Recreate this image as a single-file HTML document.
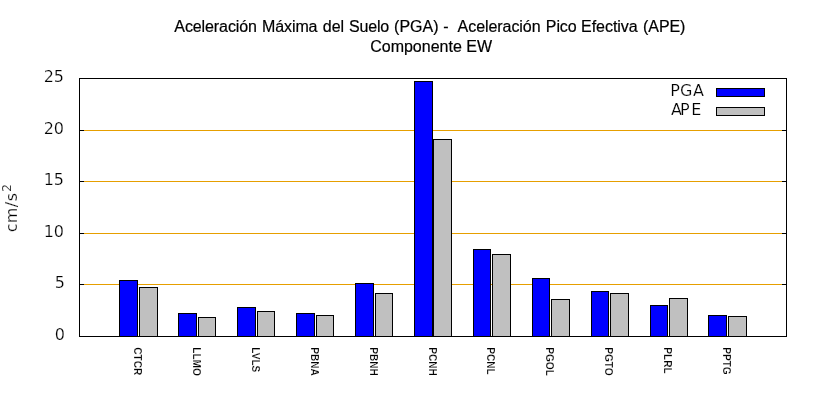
<!DOCTYPE html>
<html lang="es">
<head>
<meta charset="utf-8">
<title>Aceleración Máxima del Suelo (PGA) - Aceleración Pico Efectiva (APE)</title>
<style>
html,body{margin:0;padding:0;background:#fff;}
body{width:820px;height:400px;overflow:hidden;}
svg{display:block;}
.t{font-family:"Liberation Sans",Arial,Helvetica,sans-serif;font-size:16px;fill:#000;stroke:#000;stroke-width:0.2px;}
.d{font-family:"DejaVu Sans","Liberation Sans",sans-serif;font-size:16px;fill:#000;stroke:#fff;stroke-width:0.22px;}
.x{font-family:"Liberation Sans",Arial,Helvetica,sans-serif;font-size:11.5px;font-weight:bold;fill:#000;stroke:#fff;stroke-width:0.2px;}
</style>
</head>
<body>
<svg width="820" height="400" viewBox="0 0 820 400">
<rect x="0" y="0" width="820" height="400" fill="#ffffff"/>
<text class="t" y="32" xml:space="preserve"><tspan x="174.3" letter-spacing="-0.09">Aceleración </tspan><tspan x="262.0" letter-spacing="-0.1">Máxima </tspan><tspan x="322.8" letter-spacing="0">del </tspan><tspan x="349.1" letter-spacing="-0.2">Suelo </tspan><tspan x="394.1" letter-spacing="0">(PGA) </tspan><tspan x="443.2" letter-spacing="0">-  </tspan><tspan x="457.6" letter-spacing="-0.06">Aceleración </tspan><tspan x="545.8" letter-spacing="-0.08">Pico </tspan><tspan x="581.1" letter-spacing="-0.05">Efectiva </tspan><tspan x="643.1" letter-spacing="-0.1">(APE)</tspan></text>
<text class="t" x="431.1" y="52" text-anchor="middle">Componente EW</text>
<g shape-rendering="crispEdges">
<rect x="84" y="130" width="698" height="1" fill="#e69f00"/>
<rect x="80" y="130" width="4" height="1" fill="#000"/>
<rect x="782" y="130" width="4" height="1" fill="#000"/>
<rect x="84" y="181" width="698" height="1" fill="#e69f00"/>
<rect x="80" y="181" width="4" height="1" fill="#000"/>
<rect x="782" y="181" width="4" height="1" fill="#000"/>
<rect x="84" y="233" width="698" height="1" fill="#e69f00"/>
<rect x="80" y="233" width="4" height="1" fill="#000"/>
<rect x="782" y="233" width="4" height="1" fill="#000"/>
<rect x="84" y="284" width="698" height="1" fill="#e69f00"/>
<rect x="80" y="284" width="4" height="1" fill="#000"/>
<rect x="782" y="284" width="4" height="1" fill="#000"/>
<rect x="119.5" y="280.5" width="18" height="56" fill="#0000ff" stroke="#000" stroke-width="1"/>
<rect x="139.5" y="287.5" width="18" height="49" fill="#c0c0c0" stroke="#000" stroke-width="1"/>
<rect x="178.5" y="313.5" width="18" height="23" fill="#0000ff" stroke="#000" stroke-width="1"/>
<rect x="198.5" y="317.5" width="17" height="19" fill="#c0c0c0" stroke="#000" stroke-width="1"/>
<rect x="237.5" y="307.5" width="18" height="29" fill="#0000ff" stroke="#000" stroke-width="1"/>
<rect x="257.5" y="311.5" width="17" height="25" fill="#c0c0c0" stroke="#000" stroke-width="1"/>
<rect x="296.5" y="313.5" width="18" height="23" fill="#0000ff" stroke="#000" stroke-width="1"/>
<rect x="316.5" y="315.5" width="17" height="21" fill="#c0c0c0" stroke="#000" stroke-width="1"/>
<rect x="355.5" y="283.5" width="18" height="53" fill="#0000ff" stroke="#000" stroke-width="1"/>
<rect x="375.5" y="293.5" width="17" height="43" fill="#c0c0c0" stroke="#000" stroke-width="1"/>
<rect x="414.5" y="81.5" width="18" height="255" fill="#0000ff" stroke="#000" stroke-width="1"/>
<rect x="433.5" y="139.5" width="18" height="197" fill="#c0c0c0" stroke="#000" stroke-width="1"/>
<rect x="473.5" y="249.5" width="17" height="87" fill="#0000ff" stroke="#000" stroke-width="1"/>
<rect x="492.5" y="254.5" width="18" height="82" fill="#c0c0c0" stroke="#000" stroke-width="1"/>
<rect x="532.5" y="278.5" width="17" height="58" fill="#0000ff" stroke="#000" stroke-width="1"/>
<rect x="551.5" y="299.5" width="18" height="37" fill="#c0c0c0" stroke="#000" stroke-width="1"/>
<rect x="591.5" y="291.5" width="17" height="45" fill="#0000ff" stroke="#000" stroke-width="1"/>
<rect x="610.5" y="293.5" width="18" height="43" fill="#c0c0c0" stroke="#000" stroke-width="1"/>
<rect x="650.5" y="305.5" width="17" height="31" fill="#0000ff" stroke="#000" stroke-width="1"/>
<rect x="669.5" y="298.5" width="18" height="38" fill="#c0c0c0" stroke="#000" stroke-width="1"/>
<rect x="708.5" y="315.5" width="18" height="21" fill="#0000ff" stroke="#000" stroke-width="1"/>
<rect x="728.5" y="316.5" width="18" height="20" fill="#c0c0c0" stroke="#000" stroke-width="1"/>
<rect x="79.5" y="78.5" width="707" height="258" fill="none" stroke="#000" stroke-width="1"/>
<rect x="716.5" y="88.5" width="48" height="8" fill="#0000ff" stroke="#000" stroke-width="1"/>
<rect x="716.5" y="107.5" width="48" height="8" fill="#c0c0c0" stroke="#000" stroke-width="1"/>
</g>
<text class="d" x="64" y="81.7" text-anchor="end">25</text>
<text class="d" x="64" y="133.7" text-anchor="end">20</text>
<text class="d" x="64" y="184.7" text-anchor="end">15</text>
<text class="d" x="64" y="236.7" text-anchor="end">10</text>
<text class="d" x="65" y="287.7" text-anchor="end">5</text>
<text class="d" x="65" y="339.7" text-anchor="end">0</text>
<text class="d" x="670.3 680 692.9" y="96">PGA</text>
<text class="d" x="671.1 679.9 691.2" y="115">APE</text>
<text class="d" transform="translate(16.7,207.9) rotate(-90)" text-anchor="middle" letter-spacing="0.4">cm/s<tspan font-size="12.8px" dy="-6" dx="0.6">2</tspan></text>
<text class="x" transform="translate(133.92,347.2) rotate(90) scale(0.88,1)">CTCR</text>
<text class="x" transform="translate(192.83,347.2) rotate(90) scale(0.88,1)">LLMO</text>
<text class="x" transform="translate(251.75,347.2) rotate(90) scale(0.88,1)">LVLS</text>
<text class="x" transform="translate(310.67,347.2) rotate(90) scale(0.88,1)">PBNA</text>
<text class="x" transform="translate(369.58,347.2) rotate(90) scale(0.88,1)">PBNH</text>
<text class="x" transform="translate(428.50,347.2) rotate(90) scale(0.88,1)">PCNH</text>
<text class="x" transform="translate(487.42,347.2) rotate(90) scale(0.88,1)">PCNL</text>
<text class="x" transform="translate(546.33,347.2) rotate(90) scale(0.88,1)">PGOL</text>
<text class="x" transform="translate(605.25,347.2) rotate(90) scale(0.88,1)">PGTO</text>
<text class="x" transform="translate(664.17,347.2) rotate(90) scale(0.88,1)">PLRL</text>
<text class="x" transform="translate(723.08,347.2) rotate(90) scale(0.88,1)">PPTG</text>
</svg>
</body>
</html>
